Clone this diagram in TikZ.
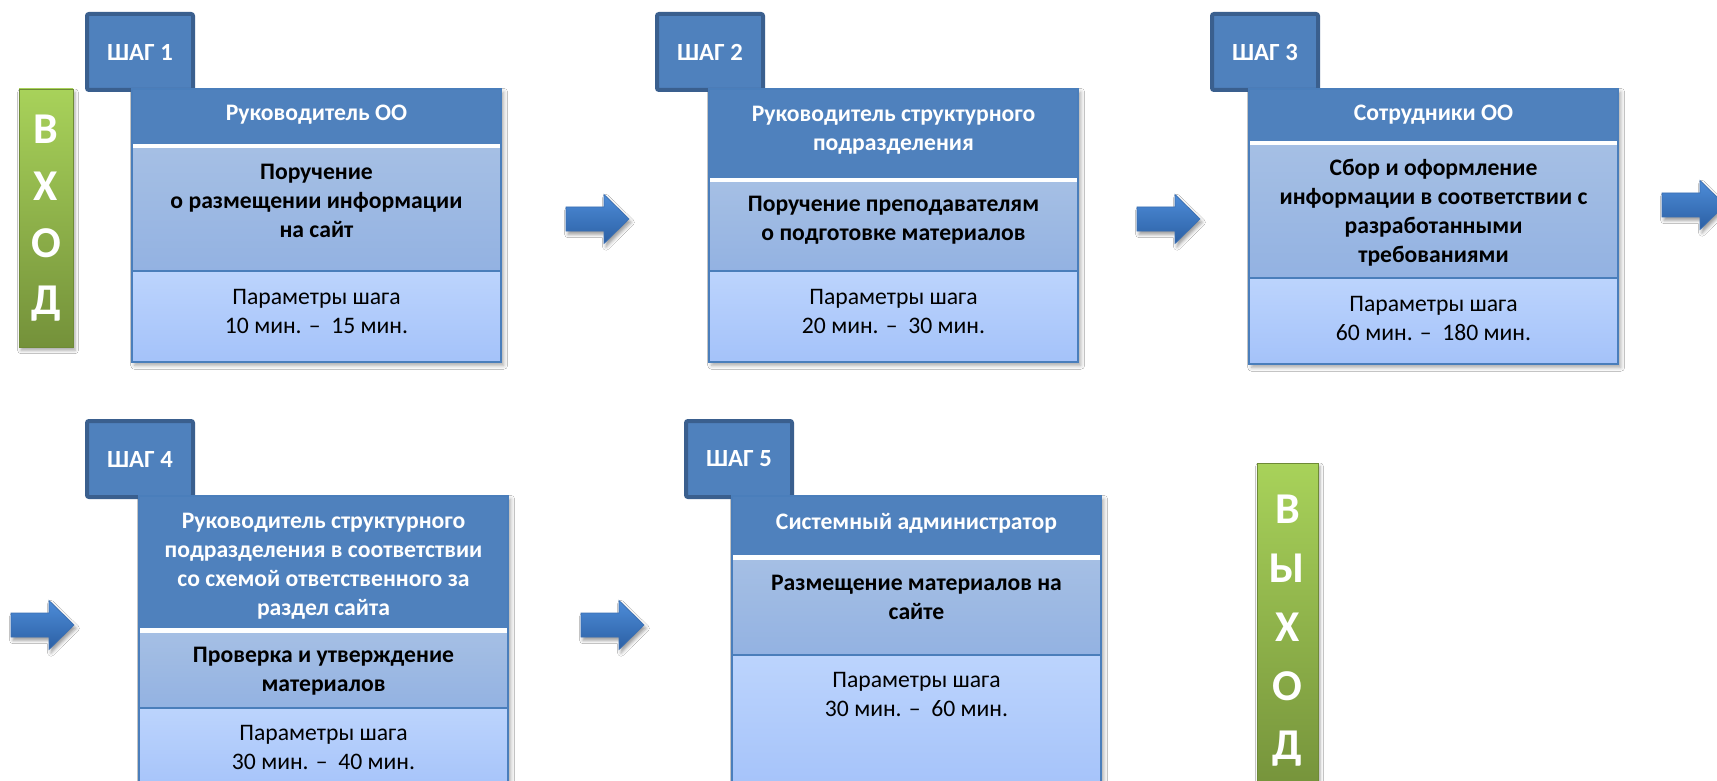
\documentclass[tikz,border=0pt]{standalone}
\usepackage{fontspec}
\setmainfont{Carlito}
\usetikzlibrary{shadows.blur}
\definecolor{hdr}{HTML}{4F81BD}
\definecolor{tabline}{HTML}{3A5F8E}
\definecolor{midtop}{HTML}{A5BFE4}
\definecolor{midbot}{HTML}{93B2E2}
\definecolor{bottop}{HTML}{BCD4FD}
\definecolor{botbot}{HTML}{A4C2F9}
\definecolor{boxline}{HTML}{4A7EBB}
\definecolor{greentop}{HTML}{A8D25A}
\definecolor{greenbot}{HTML}{74913A}
\definecolor{greenline}{HTML}{6E8A36}
\definecolor{arrtop}{HTML}{4D8CD8}
\definecolor{arrbot}{HTML}{2C60A4}
\definecolor{arrline}{HTML}{3A6FB3}
\tikzset{
  boxshadow/.style={fill=white, blur shadow={shadow xshift=2pt, shadow yshift=-2.5pt, shadow blur radius=3pt, shadow opacity=35}},
  arrowfill/.style={top color=arrtop, bottom color=arrbot, draw=arrline, line width=0.5pt,
     blur shadow={shadow xshift=1.5pt, shadow yshift=-2.5pt, shadow blur radius=2.5pt, shadow opacity=40}},
  tabbox/.style={fill=hdr, draw=tabline, line width=3pt, rounded corners=1.5pt,
     minimum width=79.5pt, minimum height=57pt, inner sep=0pt, text=white,
     font=\bfseries\fontsize{18.5}{22}\selectfont},
  greenbox/.style={top color=greentop, bottom color=greenbot, draw=greenline, line width=0.6pt,
     inner sep=0pt, text=white, align=center,
     blur shadow={shadow xshift=1.5pt, shadow yshift=-2.5pt, shadow blur radius=2.5pt, shadow opacity=35}},
  hdrtxt/.style={text=white, align=center, inner sep=0pt, font=\bfseries\fontsize{17.75}{21.75}\selectfont},
  midtxt/.style={text=black, align=center, inner sep=0pt, font=\bfseries\fontsize{17.75}{21.75}\selectfont},
  bottxt/.style={text=black, align=center, inner sep=0pt, font=\fontsize{17.75}{21.75}\selectfont},
}
\newcommand\stepframe[6]{%
  \fill[boxshadow] (#1,#3) rectangle (#2,#6);
  \fill[hdr] (#1,#3) rectangle (#2,#4);
  \fill[white] (#1,#4) rectangle (#2,#4+5);
  \shade[top color=midtop, bottom color=midbot] (#1,#4+5) rectangle (#2,#5);
  \shade[top color=bottop, bottom color=botbot] (#1,#5) rectangle (#2,#6);
  \draw[boxline, line width=1.5pt] (#1,#5) -- (#2,#5);
  \draw[boxline, line width=1.5pt] (#1,#3) rectangle (#2,#6);
}
\newcommand\blockarrow[2]{%
  \path[arrowfill] (#1,#2-12) -- (#1+38,#2-12) -- (#1+38,#2-24.5) -- (#1+63,#2)
     -- (#1+38,#2+24.5) -- (#1+38,#2+12) -- (#1,#2+12) -- cycle;
}
\begin{document}
\begin{tikzpicture}[x=0.75pt, y=-0.75pt]
\useasboundingbox (0,0) rectangle (1717,781);
\clip (0,0) rectangle (1717,781);
\fill[white] (0,0) rectangle (1717,781);

% entry / exit bars
\node[greenbox, minimum width=40.5pt, minimum height=193.5pt,
      font=\bfseries\fontsize{33}{42.75}\selectfont] (vhod) at (46,218) {В\\Х\\О\\Д};
\node[greenbox, minimum width=45.75pt, minimum height=252pt,
      font=\bfseries\fontsize{33}{44.25}\selectfont] (vyhod) at (1287.5,631) {В\\Ы\\Х\\О\\Д};

% step tabs
\node[tabbox] (tab1) at (140,52) {ШАГ 1};
\node[tabbox] (tab2) at (710,52) {ШАГ 2};
\node[tabbox] (tab3) at (1265,52) {ШАГ 3};
\node[tabbox] (tab4) at (140,459) {ШАГ 4};
\node[tabbox] (tab5) at (739,459) {ШАГ 5};

% step boxes
\stepframe{132}{501}{89}{144}{271}{362}
\stepframe{709}{1078}{89}{178}{271}{362}
\stepframe{1249}{1618}{89}{141}{278}{364}
\stepframe{139}{508}{496}{628}{708}{795}
\stepframe{732}{1101}{496}{555}{655}{795}

% texts, step 1
\node[hdrtxt] (h1) at (316.5,115) {Руководитель ОО};
\node[midtxt] (m1) at (316.5,200.5) {Поручение\\ о размещении информации\\ на сайт};
\node[bottxt] (b1) at (316.5,311) {Параметры шага\\10 мин. – ~15 мин.};
% step 2
\node[hdrtxt] (h2) at (893.5,130.5) {Руководитель структурного\\подразделения};
\node[midtxt] (m2) at (893.5,220) {Поручение преподавателям\\о подготовке материалов};
\node[bottxt] (b2) at (893.5,311.5) {Параметры шага\\20 мин. – ~30 мин.};
% step 3
\node[hdrtxt] (h3) at (1433.5,115) {Сотрудники ОО};
\node[midtxt] (m3) at (1433.5,213) {Сбор и оформление\\информации в соответствии с\\разработанными\\требованиями};
\node[bottxt] (b3) at (1433.5,318) {Параметры шага\\60 мин. – ~180 мин.};
% step 4
\node[hdrtxt] (h4) at (323.5,566) {Руководитель структурного\\подразделения в соответствии\\со схемой ответственного за\\раздел сайта};
\node[midtxt] (m4) at (323.5,671) {Проверка и утверждение\\материалов};
\node[bottxt] (b4) at (323.5,747.5) {Параметры шага\\30 мин. – ~40 мин.};
% step 5
\node[hdrtxt] (h5) at (916.5,523) {Системный администратор};
\node[midtxt] (m5) at (916.5,597.5) {Размещение материалов на\\сайте};
\node[bottxt] (b5) at (916.5,694.5) {Параметры шага\\30 мин. – ~60 мин.};

% block arrows
\blockarrow{566}{219}
\blockarrow{1137}{219}
\blockarrow{1662}{205}
\blockarrow{11}{625}
\blockarrow{581}{625}
\end{tikzpicture}
\end{document}
